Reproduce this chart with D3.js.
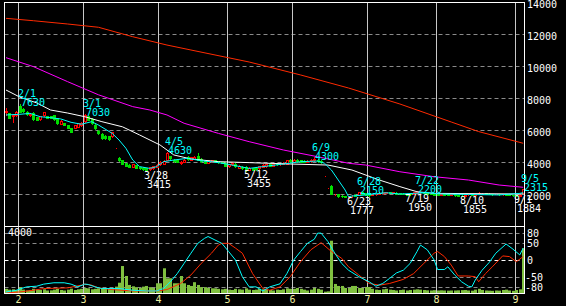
<!DOCTYPE html>
<html><head><meta charset="utf-8">
<script src="https://cdn.jsdelivr.net/npm/d3@7"></script>
<style>
html,body{margin:0;padding:0;background:#000;}
svg{display:block;}
text{font-family:"DejaVu Sans Mono","Liberation Mono",monospace;font-size:10px;}
</style></head><body>
<svg id="c" width="566" height="306"></svg>
<script>
// ---------- data ----------
const dates = ["1/26","1/27","1/28","1/31",
"2/1","2/2","2/3","2/4","2/7","2/8","2/9","2/10","2/14","2/15","2/16","2/17","2/18","2/21","2/22","2/23","2/24","2/25","2/28",
"3/1","3/2","3/3","3/4","3/7","3/8","3/9","3/10","3/11","3/14","3/15","3/16","3/17","3/18","3/22","3/23","3/24","3/25","3/28","3/29","3/30","3/31",
"4/1","4/4","4/5","4/6","4/7","4/8","4/11","4/12","4/13","4/14","4/15","4/18","4/19","4/20","4/21","4/22","4/25","4/26","4/27","4/28",
"5/2","5/6","5/9","5/10","5/11","5/12","5/13","5/16","5/17","5/18","5/19","5/20","5/23","5/24","5/25","5/26","5/27","5/30","5/31",
"6/1","6/2","6/3","6/6","6/7","6/8","6/9","6/10","6/13","6/14","6/15","6/16","6/17","6/20","6/21","6/22","6/23","6/24","6/27","6/28","6/29","6/30",
"7/1","7/4","7/5","7/6","7/7","7/8","7/11","7/12","7/13","7/14","7/15","7/19","7/20","7/21","7/22","7/25","7/26","7/27","7/28","7/29",
"8/1","8/2","8/3","8/4","8/5","8/8","8/9","8/10","8/11","8/12","8/15","8/16","8/17","8/18","8/19","8/22","8/23","8/24","8/25","8/26","8/29","8/30","8/31",
"9/1","9/2","9/5"];

const open = [7100,7050,6900,6950,
7500,7300,7150,6950,7050,6800,6700,6950,6870,6850,6930,6750,6380,6430,6300,6120,6120,6200,6300,
6560,6850,6700,6300,5950,5750,5650,5620,5600,4850,4250,4100,3940,3800,3700,3800,3680,3650,3620,3550,3600,3700,
3850,3900,4130,4350,4150,4100,3950,4000,4300,4150,4200,4350,4200,4080,3950,4000,4100,4050,4000,3950,
3750,3850,3900,3650,3700,3700,3500,3600,3650,3600,3700,3720,3850,3780,3900,3850,3880,3900,4150,
4000,4150,4100,4080,4020,4050,4100,4150,4080,3100,2400,2500,1970,2000,1900,1870,1800,1850,1950,1950,2100,2050,
1980,1930,1970,2000,2050,2050,2120,2060,2080,2050,2020,2000,1990,2000,2080,2100,2100,2060,2030,2010,
1980,1950,1990,1970,1930,1960,1920,1900,1880,1920,1960,1940,2000,2060,2060,2020,2000,1980,2000,1970,1990,1960,1940,
1930,1900,2050];

const high = [7350,7080,7000,7200,
7630,7380,7200,7050,7100,6820,6900,7150,6900,6880,6950,6780,6600,6450,6320,6150,6320,6450,6500,
7030,6880,6750,6350,6000,5800,5700,5650,5900,4850,4300,4120,3960,3850,3900,3830,3700,3680,3650,3700,3780,3850,
4050,4100,4630,4400,4200,4150,4050,4200,4350,4320,4350,4560,4250,4100,4150,4130,4120,4080,4030,3980,
3900,3980,3950,3800,3750,3720,3700,3650,3680,3780,3850,3900,3880,3880,3920,3950,3980,4150,4180,
4200,4180,4150,4100,4100,4180,4300,4180,4100,3100,2400,2550,2000,2020,1920,1900,1870,1950,2000,2150,2120,2080,
2000,2000,2030,2100,2130,2150,2140,2120,2100,2070,2040,2020,2020,2130,2200,2160,2120,2080,2050,2030,
2000,2010,2000,1990,1990,1970,1940,1920,1950,1980,1980,2010,2120,2080,2080,2040,2020,2030,2010,2010,2000,1980,1960,
1950,1970,2315];

const low = [6950,6750,6500,6900,
7100,7150,6950,6900,6650,6600,6650,6900,6720,6720,6650,6400,6350,6300,6100,5850,6100,6180,6250,
6500,6600,6400,6080,5750,5450,5450,5380,5550,4850,4080,3850,3720,3680,3680,3620,3560,3520,3415,3500,3580,3680,
3800,3850,4100,4200,4000,3980,3850,3980,4150,4120,4180,4100,4000,3920,3930,3980,3980,3950,3920,3750,
3700,3800,3700,3620,3550,3455,3480,3500,3530,3580,3680,3700,3750,3760,3820,3830,3860,3880,4020,
3980,4030,4000,3980,4000,4030,4080,4020,3950,3100,2400,1980,1960,1830,1820,1800,1777,1830,1880,1930,1980,1930,
1900,1920,1950,1990,2030,2040,2050,2040,2000,1980,1970,1950,1960,1990,2060,2080,2050,2000,1980,1950,
1930,1940,1950,1920,1920,1900,1870,1855,1870,1910,1920,1930,1990,2040,2000,1980,1960,1970,1960,1960,1940,1920,1900,
1884,1890,2040];

const close = [7200,6780,6950,7100,
7150,7200,7000,7000,6700,6620,6870,7100,6750,6760,6690,6440,6560,6330,6130,5880,6300,6430,6460,
6950,6650,6420,6120,5800,5500,5500,5420,5850,4850,4120,3870,3750,3700,3870,3650,3600,3580,3480,3680,3750,3800,
4000,4050,4550,4250,4050,4000,4000,4150,4200,4300,4300,4150,4050,3950,4100,4100,4000,4000,3950,3780,
3850,3950,3750,3780,3600,3500,3650,3520,3560,3750,3800,3850,3780,3850,3850,3900,3950,4120,4050,
4150,4050,4030,4000,4080,4150,4200,4050,3980,3100,2400,2000,1990,1850,1850,1820,1850,1900,1900,2100,2000,1950,
1930,1980,2000,2080,2100,2120,2080,2100,2030,2000,1980,1960,1970,2100,2150,2130,2060,2020,2000,1960,
1950,1990,1960,1930,1970,1910,1890,1880,1930,1960,1930,1990,2080,2060,2020,1990,1980,2000,1970,1990,1950,1930,1920,
1900,1950,2290];

const volume = [250,200,220,180,
350,200,150,180,250,200,180,220,150,160,200,250,180,150,200,260,180,220,250,
300,280,220,250,280,300,260,280,300,380,615,1610,1015,480,400,350,300,380,420,350,300,580,
580,1475,880,880,580,580,1015,580,480,420,645,480,350,350,300,280,280,250,220,250,
200,180,250,220,200,280,200,180,200,250,220,200,180,150,200,180,220,280,250,
250,300,250,200,150,200,300,250,200,80,100,3120,540,420,420,300,300,420,420,300,300,360,
360,250,200,180,220,250,200,180,150,180,200,150,180,200,220,200,180,160,150,170,
150,160,150,140,150,150,160,170,180,150,140,200,250,180,150,140,130,150,140,180,200,150,130,
180,220,2670];

// moving averages, read as [day index, price]
const maShort = [[0,6940],[4,6980],[7,7040],[10,6830],[13,6770],[16,6690],[19,6480],[22,6360],[25,6520],[27,6310],[31,5790],[33,5375],[35,4860],[37,4125],[39,3710],[42,3600],[44,3710],[46,4020],[49,4125],[53,4230],[57,4080],[62,3960],[66,3810],[71,3600],[75,3710],[81,3875],[86,4020],[91,4060],[93,3920],[95,3500],[97,2875],[99,2250],[100,1830],[101,1875],[105,1940],[111,2080],[115,2000],[119,2040],[123,2080],[127,2000],[135,1970],[144,1940],[150,2040],[151,2080]];
const maMid = [[0,8500],[4,8060],[9,7690],[13,7250],[18,7060],[23,6830],[28,6520],[34,6200],[39,5690],[45,5060],[49,4440],[54,4190],[62,4020],[71,3960],[83,3875],[94,3810],[101,3500],[109,2875],[115,2460],[120,2140],[125,2040],[151,2000]];
const maLong = [[0,10520],[8,9960],[18,9020],[27,8200],[37,7460],[42,7250],[47,6940],[52,6420],[62,5790],[71,5270],[81,4750],[91,4330],[100,3920],[105,3810],[115,3390],[125,3080],[135,2875],[144,2560],[151,2420]];
const maLonger = [[0,12980],[8,12830],[18,12625],[27,12420],[37,11830],[47,11310],[54,11000],[71,10250],[86,9440],[100,8625],[115,7625],[130,6500],[138,5900],[151,5170]];

// oscillators (lower panel), [day index, value]
const oscFast = [[0,-94],[3,-89],[6,-79],[9,-77],[11,-71],[14,-67],[17,-67],[19,-71],[21,-79],[23,-71],[24,-72],[26,-79],[28,-84],[33,-84],[37,-89],[41,-91],[44,-91],[46,-84],[48,-64],[50,-40],[52,-10],[54,20],[56,49],[58,64],[59,69],[61,59],[63,49],[65,25],[67,0],[69,-49],[71,-79],[73,-79],[75,-91],[77,-79],[80,-70],[82,-40],[84,0],[86,25],[88,49],[90,61],[91,79],[92,79],[94,54],[96,20],[98,-10],[100,-30],[103,-49],[106,-64],[108,-77],[110,-69],[112,-54],[114,-38],[116,-30],[118,-10],[120,25],[121,44],[123,30],[125,0],[126,-28],[128,-28],[129,-20],[131,-44],[133,-64],[135,-77],[136,-79],[137,-59],[139,-30],[141,-8],[143,20],[146,47],[148,32],[150,15],[151,35]];
const oscSlow = [[0,-97],[4,-94],[8,-89],[11,-84],[18,-82],[22,-74],[23,-71],[25,-74],[27,-82],[31,-87],[37,-91],[44,-91],[47,-87],[51,-69],[54,-44],[57,-10],[60,20],[62,44],[63,49],[65,49],[67,35],[69,20],[72,-40],[75,-84],[77,-89],[80,-79],[83,-49],[86,-5],[89,30],[92,51],[95,25],[98,5],[100,-20],[103,-44],[106,-69],[109,-74],[112,-69],[116,-57],[119,-40],[122,-10],[125,20],[126,25],[128,10],[130,-15],[132,-47],[135,-47],[137,-49],[138,-64],[140,-40],[142,-20],[145,12],[147,10],[149,-5],[151,10]];

const priceTicks = [2000,4000,6000,8000,10000,12000,14000];
const oscTicks = [80,50,0,-50,-80];
const volMax = 4000;
const annoDates = ["2/1","3/1","3/28","4/5","5/12","6/9","6/23","6/28","7/19","7/22","8/10","9/1","9/5"];
const annoType  = ["H","H","L","H","L","H","L","H","L","H","L","L","H"];

// ---------- layout ----------
const L = 4.5, R = 524.5, T = 2.5, MID = 226.5, B = 293.5;
const svg = d3.select("#c");
svg.append("rect").attr("width",566).attr("height",306).attr("fill","#000");

const n = dates.length;
const x = d3.scaleLinear().domain([0, n-1]).range([6, 523.2]);
const step = x(1) - x(0);
const y = d3.scaleLinear().domain([0, 14000]).range([226, 2]);
const yo = d3.scaleLinear().domain([-100, 100]).range([294, 226]);
const yv = d3.scaleLinear().domain([0, volMax]).range([293, 226]);
const cx = i => Math.round(x(i));

const RED = "#ff0000", GREEN = "#00dd00", CYAN = "#00ffff", MAG = "#ff00ff", ORED = "#ff2a00";

// horizontal gridlines main
svg.append("g").selectAll("line").data(priceTicks.filter(v => v < 14000)).join("line")
  .attr("x1", L).attr("x2", R).attr("y1", d => Math.round(y(d)) + 0.5).attr("y2", d => Math.round(y(d)) + 0.5)
  .attr("stroke", "#8a8a8a").attr("stroke-dasharray", "4,3");
// lower gridlines
svg.append("g").selectAll("line").data(oscTicks).join("line")
  .attr("x1", L).attr("x2", R).attr("y1", d => Math.round(yo(d)) + 0.5).attr("y2", d => Math.round(yo(d)) + 0.5)
  .attr("stroke", d => d === 0 ? "#ffffff" : "#8a8a8a").attr("stroke-dasharray", "4,3");

// month boundaries
const monthStarts = [];
dates.forEach((d, i) => { const m = d.split("/")[0]; if (i > 0 && m !== dates[i-1].split("/")[0]) monthStarts.push({i, m}); });
svg.append("g").selectAll("line").data(monthStarts).join("line")
  .attr("x1", d => Math.round(x(d.i) - step/2) + 0.5).attr("x2", d => Math.round(x(d.i) - step/2) + 0.5)
  .attr("y1", T).attr("y2", B).attr("stroke", "#c8c8c8");
svg.append("g").selectAll("text").data(monthStarts).join("text")
  .attr("x", d => Math.round(x(d.i) - step/2) + 0.5).attr("y", 299).attr("text-anchor", "middle")
  .attr("dominant-baseline", "central").attr("fill", "#f0f0a0").text(d => d.m);

// volume bars
svg.append("g").selectAll("rect").data(volume).join("rect")
  .attr("x", (d, i) => cx(i) - 1).attr("width", 3)
  .attr("y", d => yv(d)).attr("height", d => 293 - yv(d)).attr("fill", "#80c040");

// oscillators
const lineO = d3.line().x(d => x(d[0])).y(d => yo(d[1]));
svg.append("path").attr("d", lineO(oscSlow)).attr("fill", "none").attr("stroke", ORED).attr("stroke-width", 1);
svg.append("path").attr("d", lineO(oscFast)).attr("fill", "none").attr("stroke", CYAN).attr("stroke-width", 1);

// candles
const cg = svg.append("g");
d3.range(n).forEach(i => {
  const up = close[i] >= open[i];
  const c = cx(i) + 0.5;
  cg.append("line").attr("x1", c).attr("x2", c).attr("y1", Math.round(y(high[i]))).attr("y2", Math.round(y(low[i])) + 1)
    .attr("stroke", up ? RED : GREEN);
  const top = Math.round(y(Math.max(open[i], close[i])));
  const bot = Math.round(y(Math.min(open[i], close[i])));
  if (up) {
    cg.append("rect").attr("x", cx(i) - 0.5).attr("y", top + 0.5).attr("width", 2).attr("height", Math.max(0, bot - top))
      .attr("fill", "#000").attr("stroke", RED);
  } else {
    cg.append("rect").attr("x", cx(i) - 1).attr("y", top).attr("width", 3).attr("height", Math.max(1, bot - top + 1))
      .attr("fill", GREEN);
  }
});

// moving averages
const lineP = d3.line().x(d => x(d[0])).y(d => y(d[1]));
[[maLonger, ORED], [maLong, MAG], [maMid, "#ffffff"], [maShort, CYAN]].forEach(([data, col]) => {
  svg.append("path").attr("d", lineP(data)).attr("fill", "none").attr("stroke", col).attr("stroke-width", 1);
});

// frames
svg.append("rect").attr("x", L).attr("y", T).attr("width", R - L).attr("height", MID - T).attr("fill", "none").attr("stroke", "#fff");
svg.append("rect").attr("x", L).attr("y", MID).attr("width", R - L).attr("height", B - MID).attr("fill", "none").attr("stroke", "#fff");

// right axis labels
svg.append("g").selectAll("text").data(priceTicks).join("text")
  .attr("x", 527).attr("y", d => y(d) + 2).attr("dominant-baseline", "central").attr("fill", "#fff").text(d => d);
svg.append("g").selectAll("text").data(oscTicks).join("text")
  .attr("x", d => d < 0 ? 525 : 527).attr("y", d => yo(d) + 0.5).attr("dominant-baseline", "central").attr("fill", "#fff").text(d => d);
svg.append("text").attr("x", 8).attr("y", 232).attr("dominant-baseline", "central").attr("fill", "#fff").text(volMax);

// high / low annotations
annoDates.forEach((d, k) => {
  const i = dates.indexOf(d);
  const isH = annoType[k] === "H";
  const v = isH ? high[i] : low[i];
  const yy = y(v);
  const col = isH ? CYAN : "#ffffff";
  svg.append("text").attr("x", cx(i) - 2).attr("y", isH ? yy - 10 : yy + 4).attr("dominant-baseline", "central").attr("fill", col).text(d);
  svg.append("text").attr("x", cx(i) + 1).attr("y", isH ? yy - 1 : yy + 13).attr("dominant-baseline", "central").attr("fill", col).text(v);
});
</script>
</body></html>
